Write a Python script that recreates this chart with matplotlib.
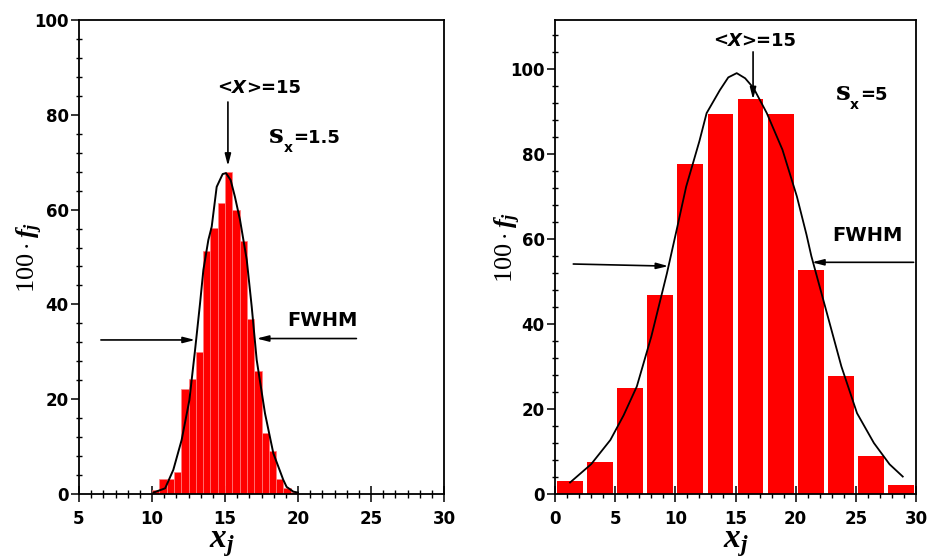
import numpy as np
import matplotlib
matplotlib.use("Agg")
import matplotlib.pyplot as plt
from matplotlib.ticker import MultipleLocator

plt.rcParams["font.family"] = "DejaVu Sans"
plt.rcParams["mathtext.fontset"] = "custom"
plt.rcParams["mathtext.rm"] = "Liberation Serif"
plt.rcParams["mathtext.it"] = "Liberation Serif:italic:bold"
plt.rcParams["mathtext.bf"] = "Liberation Serif:bold"

# left panel: narrow distribution, bins of 0.5
left_bins = np.arange(10.0, 20.0, 0.5)
left_vals = [0.8, 3.1, 3.1, 4.7, 22.1, 24.2, 30.0, 51.3, 56.2, 61.3,
             68.0, 59.9, 53.4, 36.9, 25.9, 12.8, 9.1, 3.1, 1.2, 0.5]
left_curve_x = [10.1, 10.9, 11.46, 12.03, 12.56, 12.95, 13.29, 13.52, 13.86, 14.09,
                14.43, 14.84, 15.07, 15.39, 15.68, 16.03, 16.49, 16.83, 17.17, 17.74,
                18.31, 18.99, 19.22, 19.68, 20.0]
left_curve_y = [0.3, 1.2, 5.1, 11.4, 19.8, 30.4, 40.2, 47.3, 53.6, 56.4,
                64.8, 67.5, 67.7, 66.2, 62.7, 57.8, 49.4, 39.5, 28.3, 17.0,
                8.6, 3.0, 1.5, 0.5, 0.3]

# right panel: wide distribution, bins of 2.5
right_bins = np.arange(0.0, 30.0, 2.5)
right_vals = [3.0, 7.6, 25.0, 46.7, 77.7, 89.5, 92.8, 89.5, 52.8, 27.8, 9.0, 2.0]
right_curve_x = [1.25, 3.0, 4.6, 5.7, 6.8, 8.0, 9.3, 10.1, 10.9, 12.0, 12.6, 13.7, 14.4,
                 15.1, 15.8, 16.5, 17.6, 18.9, 20.1, 20.9, 21.3, 22.6, 23.8, 25.1, 26.5,
                 27.8, 28.9]
right_curve_y = [2.7, 7.0, 12.7, 18.5, 25.3, 37.0, 51.9, 62.0, 72.3, 83.0, 89.6, 95.0, 98.0,
                 99.0, 97.8, 95.5, 89.6, 81.0, 70.0, 61.0, 56.0, 42.5, 30.0, 19.0, 12.0,
                 7.0, 4.1]

fig = plt.figure(figsize=(9.32, 5.58), dpi=100)
ax1 = fig.add_axes([79 / 932, 64 / 558, 365 / 932, 474 / 558])
ax2 = fig.add_axes([555 / 932, 64 / 558, 361 / 932, 474 / 558])

ax1.bar(left_bins, left_vals, width=0.5, align="edge", color="#ff0000",
        edgecolor="#ff8080", linewidth=0.5, zorder=2)
ax1.plot(left_curve_x, left_curve_y, color="k", lw=1.4, zorder=3)

ax2.bar(right_bins + 1.25, right_vals, width=2.15, color="#ff0000", zorder=2)
ax2.plot(right_curve_x, right_curve_y, color="k", lw=1.3, zorder=3)

ax1.set_xlim(5, 30)
ax1.set_ylim(0, 100)
ax1.xaxis.set_major_locator(MultipleLocator(5))
ax1.xaxis.set_minor_locator(MultipleLocator(5 / 6))
ax2.set_xlim(0, 30)
ax2.set_ylim(0, 111.5)
ax2.xaxis.set_major_locator(MultipleLocator(5))
ax2.xaxis.set_minor_locator(MultipleLocator(1))

for ax in (ax1, ax2):
    ax.yaxis.set_major_locator(MultipleLocator(20))
    ax.yaxis.set_minor_locator(MultipleLocator(4))
    for s in ax.spines.values():
        s.set_linewidth(1.3)
    ax.tick_params(axis="x", which="major", direction="inout", length=11, width=1.1,
                   labelsize=12, pad=6)
    ax.tick_params(axis="x", which="minor", direction="inout", length=5.5, width=1.0)
    ax.tick_params(axis="y", which="major", direction="out", length=5.5, width=1.1,
                   labelsize=12, pad=2)
    ax.tick_params(axis="y", which="minor", direction="inout", length=4, width=1.0)
    plt.setp(ax.get_xticklabels() + ax.get_yticklabels(), fontweight="bold")
    ax.set_xlabel(r"$x_j$", fontsize=24)
    ax.set_ylabel(r"$\mathrm{100}\cdot f_j$", fontsize=19)

ax1.xaxis.set_label_coords(0.39, -0.068)
ax2.xaxis.set_label_coords(0.5, -0.068)
ax1.yaxis.set_label_coords(-0.093, 0.5)
ax2.yaxis.set_label_coords(-0.089, 0.52)

arrow = dict(arrowstyle="-|>,head_width=0.18,head_length=0.7", color="k", lw=1.2,
             shrinkA=0, shrinkB=0)


def chain(ax, x, y, pieces):
    # write text pieces one after another, bottoms aligned, starting at data point (x, y)
    prev = None
    for txt, kw, dy in pieces:
        opts = dict(fontsize=13, fontweight="bold", ha="left", va="bottom")
        opts.update(kw)
        if prev is None:
            prev = ax.annotate(txt, xy=(x, y), xytext=(0, dy),
                               textcoords="offset points", **opts)
        else:
            prev = ax.annotate(txt, xy=(1, 0), xycoords=prev, xytext=(0, dy),
                               textcoords="offset points", **opts)
    return prev


mean_pieces = [("<", {}, 0), ("X", {"style": "italic"}, 0), (">=15", {}, 0)]


def sigma_label(ax, x, y, value):
    s = ax.annotate("s", xy=(x, y), family="DejaVu Serif", fontweight="bold",
                    fontsize=19, ha="left", va="bottom")
    ax.annotate("x", xy=(1, 0), xycoords=s, xytext=(0, -5), textcoords="offset points",
                fontsize=10, fontweight="bold", ha="left", va="bottom")
    ax.annotate("=" + value, xy=(1, 0), xycoords=s, xytext=(7, 1),
                textcoords="offset points", fontsize=13, fontweight="bold",
                ha="left", va="bottom")


# left annotations
chain(ax1, 14.45, 83.8, mean_pieces)
ax1.annotate("", xy=(15.2, 69.2), xytext=(15.2, 82.7), arrowprops=arrow)
sigma_label(ax1, 18.0, 73.0, "1.5")
ax1.text(21.65, 36.7, "FWHM", fontsize=14, fontweight="bold", ha="center", va="center")
ax1.annotate("", xy=(12.95, 32.5), xytext=(6.5, 32.5), arrowprops=arrow)
ax1.annotate("", xy=(17.17, 32.8), xytext=(24.0, 32.8), arrowprops=arrow)

# right annotations
chain(ax2, 13.1, 104.5, mean_pieces)
ax2.annotate("", xy=(16.46, 92.8), xytext=(16.46, 104.0), arrowprops=arrow)
sigma_label(ax2, 23.3, 91.5, "5")
ax2.text(26.0, 60.7, "FWHM", fontsize=14, fontweight="bold", ha="center", va="center")
ax2.annotate("", xy=(9.42, 53.6), xytext=(1.52, 54.1), arrowprops=arrow)
ax2.annotate("", xy=(21.35, 54.5), xytext=(29.8, 54.5), arrowprops=arrow)

fig.savefig("out.png", dpi=100)
